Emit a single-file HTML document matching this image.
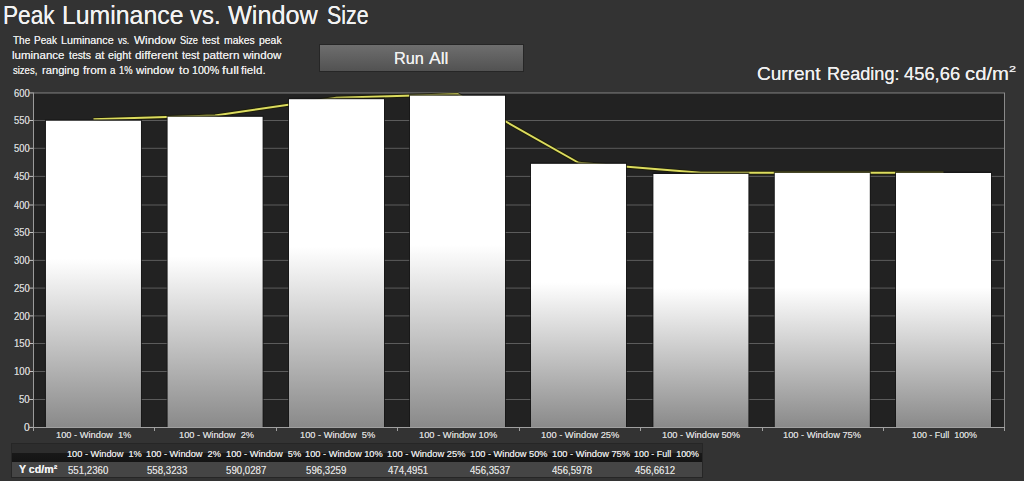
<!DOCTYPE html>
<html><head><meta charset="utf-8"><style>
html,body{margin:0;padding:0;}
body{width:1024px;height:481px;overflow:hidden;background:#333333;position:relative;font-family:"Liberation Sans",sans-serif;}
.t{position:absolute;white-space:pre;transform-origin:0 0;text-shadow:0 0 0.6px currentColor;}
</style></head><body>
<svg style="position:absolute;left:0;top:0" width="1024" height="481" viewBox="0 0 1024 481" shape-rendering="auto"><defs><linearGradient id="bg" x1="0" y1="0" x2="0" y2="1"><stop offset="0" stop-color="#ffffff"/><stop offset="0.45" stop-color="#ffffff"/><stop offset="1" stop-color="#8a8a8a"/></linearGradient></defs><rect x="33" y="92" width="972" height="335" fill="#222222"/><line x1="33" x2="1004" y1="399.5" y2="399.5" stroke="#5c5c5c" stroke-width="1"/><line x1="33" x2="1004" y1="371.5" y2="371.5" stroke="#5c5c5c" stroke-width="1"/><line x1="33" x2="1004" y1="343.5" y2="343.5" stroke="#5c5c5c" stroke-width="1"/><line x1="33" x2="1004" y1="315.9" y2="315.9" stroke="#5c5c5c" stroke-width="1"/><line x1="33" x2="1004" y1="288.1" y2="288.1" stroke="#5c5c5c" stroke-width="1"/><line x1="33" x2="1004" y1="260.4" y2="260.4" stroke="#5c5c5c" stroke-width="1"/><line x1="33" x2="1004" y1="232.5" y2="232.5" stroke="#5c5c5c" stroke-width="1"/><line x1="33" x2="1004" y1="205.0" y2="205.0" stroke="#5c5c5c" stroke-width="1"/><line x1="33" x2="1004" y1="176.4" y2="176.4" stroke="#5c5c5c" stroke-width="1"/><line x1="33" x2="1004" y1="148.3" y2="148.3" stroke="#5c5c5c" stroke-width="1"/><line x1="33" x2="1004" y1="120.5" y2="120.5" stroke="#5c5c5c" stroke-width="1"/><line x1="33" x2="1005" y1="92.95" y2="92.95" stroke="#8a8a8a" stroke-width="1"/><line x1="1004.5" x2="1004.5" y1="92.95" y2="427" stroke="#8a8a8a" stroke-width="1"/><polyline points="93.46,119.35 215.10,115.40 336.50,97.71 457.50,94.20 578.50,162.75 700.90,172.87 822.30,172.73 943.50,172.70" fill="none" stroke="#1c1c00" stroke-opacity="0.7" stroke-width="4" stroke-linejoin="round"/><polyline points="93.46,119.35 215.10,115.40 336.50,97.71 457.50,94.20 578.50,162.75 700.90,172.87 822.30,172.73 943.50,172.70" fill="none" stroke="#dcdc5e" stroke-width="2" stroke-linejoin="round"/><rect x="44.96" y="119.30" width="97.0" height="307.70" fill="#161616" fill-opacity="0.75"/><rect x="45.96" y="120.80" width="95.0" height="306.20" fill="url(#bg)"/><rect x="166.60" y="115.35" width="97.0" height="311.65" fill="#161616" fill-opacity="0.75"/><rect x="167.60" y="116.85" width="95.0" height="310.15" fill="url(#bg)"/><rect x="288.00" y="97.70" width="97.0" height="329.30" fill="#161616" fill-opacity="0.75"/><rect x="289.00" y="99.20" width="95.0" height="327.80" fill="url(#bg)"/><rect x="409.00" y="94.25" width="97.0" height="332.75" fill="#161616" fill-opacity="0.75"/><rect x="410.00" y="95.75" width="95.0" height="331.25" fill="url(#bg)"/><rect x="530.00" y="162.35" width="97.0" height="264.65" fill="#161616" fill-opacity="0.75"/><rect x="531.00" y="163.85" width="95.0" height="263.15" fill="url(#bg)"/><rect x="652.40" y="172.50" width="97.0" height="254.50" fill="#161616" fill-opacity="0.75"/><rect x="653.40" y="174.00" width="95.0" height="253.00" fill="url(#bg)"/><rect x="773.80" y="171.50" width="97.0" height="255.50" fill="#161616" fill-opacity="0.75"/><rect x="774.80" y="173.00" width="95.0" height="254.00" fill="url(#bg)"/><rect x="895.00" y="171.50" width="97.0" height="255.50" fill="#161616" fill-opacity="0.75"/><rect x="896.00" y="173.00" width="95.0" height="254.00" fill="url(#bg)"/><line x1="33.5" x2="33.5" y1="92.45" y2="431" stroke="#9a9a9a" stroke-width="1"/><line x1="33" x2="1005" y1="427.5" y2="427.5" stroke="#a0a0a0" stroke-width="1"/><line x1="29" x2="33" y1="427.4" y2="427.4" stroke="#c0c0c0" stroke-width="1"/><line x1="29" x2="33" y1="399.5" y2="399.5" stroke="#c0c0c0" stroke-width="1"/><line x1="29" x2="33" y1="371.5" y2="371.5" stroke="#c0c0c0" stroke-width="1"/><line x1="29" x2="33" y1="343.5" y2="343.5" stroke="#c0c0c0" stroke-width="1"/><line x1="29" x2="33" y1="315.9" y2="315.9" stroke="#c0c0c0" stroke-width="1"/><line x1="29" x2="33" y1="288.1" y2="288.1" stroke="#c0c0c0" stroke-width="1"/><line x1="29" x2="33" y1="260.4" y2="260.4" stroke="#c0c0c0" stroke-width="1"/><line x1="29" x2="33" y1="232.5" y2="232.5" stroke="#c0c0c0" stroke-width="1"/><line x1="29" x2="33" y1="205.0" y2="205.0" stroke="#c0c0c0" stroke-width="1"/><line x1="29" x2="33" y1="176.4" y2="176.4" stroke="#c0c0c0" stroke-width="1"/><line x1="29" x2="33" y1="148.3" y2="148.3" stroke="#c0c0c0" stroke-width="1"/><line x1="29" x2="33" y1="120.5" y2="120.5" stroke="#c0c0c0" stroke-width="1"/><line x1="29" x2="33" y1="92.95" y2="92.95" stroke="#c0c0c0" stroke-width="1"/><line x1="33.5" x2="33.5" y1="427" y2="431" stroke="#a0a0a0" stroke-width="1"/><line x1="154.5" x2="154.5" y1="427" y2="431" stroke="#a0a0a0" stroke-width="1"/><line x1="276.5" x2="276.5" y1="427" y2="431" stroke="#a0a0a0" stroke-width="1"/><line x1="397.5" x2="397.5" y1="427" y2="431" stroke="#a0a0a0" stroke-width="1"/><line x1="519.5" x2="519.5" y1="427" y2="431" stroke="#a0a0a0" stroke-width="1"/><line x1="640.5" x2="640.5" y1="427" y2="431" stroke="#a0a0a0" stroke-width="1"/><line x1="762.5" x2="762.5" y1="427" y2="431" stroke="#a0a0a0" stroke-width="1"/><line x1="883.5" x2="883.5" y1="427" y2="431" stroke="#a0a0a0" stroke-width="1"/><line x1="1004.5" x2="1004.5" y1="427" y2="431" stroke="#a0a0a0" stroke-width="1"/></svg><div style="position:absolute;left:319px;top:44px;width:203px;height:26px;border:1px solid #262626;background:linear-gradient(#6e6e6e,#525252)"></div><div style="position:absolute;left:11px;top:443px;width:690px;height:33px;border:1px solid #262626;background:#454545"></div><div style="position:absolute;left:12px;top:444px;width:690px;height:18px;background:linear-gradient(#2d2d2d 0,#2d2d2d 48%,#181818 52%,#141414 100%)"></div>
<div class="t" style="left:2.69px;top:3.00px;font-size:25px;line-height:25px;color:#f2f2f2;transform:scaleX(0.9059);">Peak</div><div class="t" style="left:62.21px;top:3.00px;font-size:25px;line-height:25px;color:#f2f2f2;transform:scaleX(0.9929);">Luminance</div><div class="t" style="left:190.37px;top:3.00px;font-size:25px;line-height:25px;color:#f2f2f2;transform:scaleX(0.9566);">vs.</div><div class="t" style="left:228.04px;top:3.00px;font-size:25px;line-height:25px;color:#f2f2f2;transform:scaleX(1.0104);">Window</div><div class="t" style="left:326.78px;top:3.00px;font-size:25px;line-height:25px;color:#f2f2f2;transform:scaleX(0.8535);">Size</div><div class="t" style="left:13.43px;top:35.00px;font-size:11px;line-height:11px;color:#e8e8e8;transform:scaleX(0.9104);">The</div><div class="t" style="left:34.03px;top:35.00px;font-size:11px;line-height:11px;color:#e8e8e8;transform:scaleX(0.9135);">Peak</div><div class="t" style="left:60.67px;top:35.00px;font-size:11px;line-height:11px;color:#e8e8e8;transform:scaleX(0.9802);">Luminance</div><div class="t" style="left:118.22px;top:35.00px;font-size:11px;line-height:11px;color:#e8e8e8;transform:scaleX(0.8064);">vs.</div><div class="t" style="left:133.90px;top:35.00px;font-size:11px;line-height:11px;color:#e8e8e8;transform:scaleX(1.0638);">Window</div><div class="t" style="left:179.73px;top:35.00px;font-size:11px;line-height:11px;color:#e8e8e8;transform:scaleX(0.8424);">Size</div><div class="t" style="left:201.79px;top:35.00px;font-size:11px;line-height:11px;color:#e8e8e8;transform:scaleX(0.9893);">test</div><div class="t" style="left:223.86px;top:35.00px;font-size:11px;line-height:11px;color:#e8e8e8;transform:scaleX(0.9463);">makes</div><div class="t" style="left:258.78px;top:35.00px;font-size:11px;line-height:11px;color:#e8e8e8;transform:scaleX(0.9496);">peak</div><div class="t" style="left:12.47px;top:50.00px;font-size:11px;line-height:11px;color:#e8e8e8;transform:scaleX(1.0468);">luminance</div><div class="t" style="left:68.89px;top:50.00px;font-size:11px;line-height:11px;color:#e8e8e8;transform:scaleX(0.9440);">tests</div><div class="t" style="left:94.56px;top:50.00px;font-size:11px;line-height:11px;color:#e8e8e8;transform:scaleX(1.0417);">at</div><div class="t" style="left:107.59px;top:50.00px;font-size:11px;line-height:11px;color:#e8e8e8;transform:scaleX(0.9738);">eight</div><div class="t" style="left:134.85px;top:50.00px;font-size:11px;line-height:11px;color:#e8e8e8;transform:scaleX(1.0815);">different</div><div class="t" style="left:181.99px;top:50.00px;font-size:11px;line-height:11px;color:#e8e8e8;transform:scaleX(0.9893);">test</div><div class="t" style="left:203.29px;top:50.00px;font-size:11px;line-height:11px;color:#e8e8e8;transform:scaleX(1.0662);">pattern</div><div class="t" style="left:243.07px;top:50.00px;font-size:11px;line-height:11px;color:#e8e8e8;transform:scaleX(1.0455);">window</div><div class="t" style="left:12.99px;top:65.00px;font-size:11px;line-height:11px;color:#e8e8e8;transform:scaleX(0.8647);">sizes,</div><div class="t" style="left:41.61px;top:65.00px;font-size:11px;line-height:11px;color:#e8e8e8;transform:scaleX(1.0152);">ranging</div><div class="t" style="left:82.58px;top:65.00px;font-size:11px;line-height:11px;color:#e8e8e8;transform:scaleX(1.0749);">from</div><div class="t" style="left:109.64px;top:65.00px;font-size:11px;line-height:11px;color:#e8e8e8;transform:scaleX(0.8837);">a</div><div class="t" style="left:118.94px;top:65.00px;font-size:11px;line-height:11px;color:#e8e8e8;transform:scaleX(0.8517);">1%</div><div class="t" style="left:136.07px;top:65.00px;font-size:11px;line-height:11px;color:#e8e8e8;transform:scaleX(1.0373);">window</div><div class="t" style="left:178.57px;top:65.00px;font-size:11px;line-height:11px;color:#e8e8e8;transform:scaleX(1.1099);">to</div><div class="t" style="left:191.64px;top:65.00px;font-size:11px;line-height:11px;color:#e8e8e8;transform:scaleX(0.9699);">100%</div><div class="t" style="left:222.26px;top:65.00px;font-size:11px;line-height:11px;color:#e8e8e8;transform:scaleX(1.2148);">full</div><div class="t" style="left:241.49px;top:65.00px;font-size:11px;line-height:11px;color:#e8e8e8;transform:scaleX(1.0593);">field.</div><div class="t" style="left:394.21px;top:50.00px;font-size:17px;line-height:17px;color:#f0f0f0;transform:scaleX(0.9586);">Run</div><div class="t" style="left:428.92px;top:50.00px;font-size:17px;line-height:17px;color:#f0f0f0;transform:scaleX(1.0318);">All</div><div class="t" style="left:757.48px;top:65.00px;font-size:18.5px;line-height:18.5px;color:#f0f0f0;transform:scaleX(1.0292);">Current</div><div class="t" style="left:826.66px;top:65.00px;font-size:18.5px;line-height:18.5px;color:#f0f0f0;transform:scaleX(0.9795);">Reading:</div><div class="t" style="left:903.73px;top:65.00px;font-size:18.5px;line-height:18.5px;color:#f0f0f0;transform:scaleX(0.9918);">456,66</div><div class="t" style="left:965.49px;top:65.00px;font-size:18.5px;line-height:18.5px;color:#f0f0f0;transform:scaleX(1.0974);">cd/m</div><div class="t" style="left:1008.76px;top:64.00px;font-size:9.8px;line-height:9.8px;color:#f0f0f0;transform:scaleX(1.2983);">2</div><div class="t" style="left:24.03px;top:423.00px;font-size:10.2px;line-height:10.2px;color:#d0d0d0;">0</div><div class="t" style="left:19.02px;top:395.00px;font-size:10.2px;line-height:10.2px;color:#d0d0d0;transform:scaleX(0.9396);">50</div><div class="t" style="left:13.67px;top:367.00px;font-size:10.2px;line-height:10.2px;color:#d0d0d0;transform:scaleX(0.9416);">100</div><div class="t" style="left:13.67px;top:339.00px;font-size:10.2px;line-height:10.2px;color:#d0d0d0;transform:scaleX(0.9416);">150</div><div class="t" style="left:13.92px;top:312.00px;font-size:10.2px;line-height:10.2px;color:#d0d0d0;transform:scaleX(0.9261);">200</div><div class="t" style="left:13.92px;top:284.00px;font-size:10.2px;line-height:10.2px;color:#d0d0d0;transform:scaleX(0.9261);">250</div><div class="t" style="left:14.04px;top:256.00px;font-size:10.2px;line-height:10.2px;color:#d0d0d0;transform:scaleX(0.9190);">300</div><div class="t" style="left:14.04px;top:228.00px;font-size:10.2px;line-height:10.2px;color:#d0d0d0;transform:scaleX(0.9190);">350</div><div class="t" style="left:14.19px;top:201.00px;font-size:10.2px;line-height:10.2px;color:#d0d0d0;transform:scaleX(0.9103);">400</div><div class="t" style="left:14.19px;top:172.00px;font-size:10.2px;line-height:10.2px;color:#d0d0d0;transform:scaleX(0.9103);">450</div><div class="t" style="left:14.02px;top:144.00px;font-size:10.2px;line-height:10.2px;color:#d0d0d0;transform:scaleX(0.9201);">500</div><div class="t" style="left:14.02px;top:116.00px;font-size:10.2px;line-height:10.2px;color:#d0d0d0;transform:scaleX(0.9201);">550</div><div class="t" style="left:13.92px;top:89.00px;font-size:10.2px;line-height:10.2px;color:#d0d0d0;transform:scaleX(0.9264);">600</div><div class="t" style="left:56.14px;top:430.00px;font-size:9.8px;line-height:9.8px;color:#d4d4d4;transform:scaleX(0.9477);">100 - Window  1%</div><div class="t" style="left:178.60px;top:430.00px;font-size:9.8px;line-height:9.8px;color:#d4d4d4;transform:scaleX(0.9438);">100 - Window  2%</div><div class="t" style="left:299.59px;top:430.00px;font-size:9.8px;line-height:9.8px;color:#d4d4d4;transform:scaleX(0.9464);">100 - Window  5%</div><div class="t" style="left:419.19px;top:430.00px;font-size:9.8px;line-height:9.8px;color:#d4d4d4;transform:scaleX(0.9515);">100 - Window 10%</div><div class="t" style="left:540.54px;top:430.00px;font-size:9.8px;line-height:9.8px;color:#d4d4d4;transform:scaleX(0.9527);">100 - Window 25%</div><div class="t" style="left:662.09px;top:430.00px;font-size:9.8px;line-height:9.8px;color:#d4d4d4;transform:scaleX(0.9490);">100 - Window 50%</div><div class="t" style="left:783.49px;top:430.00px;font-size:9.8px;line-height:9.8px;color:#d4d4d4;transform:scaleX(0.9490);">100 - Window 75%</div><div class="t" style="left:912.02px;top:430.00px;font-size:9.8px;line-height:9.8px;color:#d4d4d4;transform:scaleX(0.9111);">100 - Full  100%</div><div class="t" style="left:67.20px;top:449.00px;font-size:9.8px;line-height:9.8px;color:#e0e0e0;transform:scaleX(0.9400);">100 - Window  1%</div><div class="t" style="left:146.30px;top:449.00px;font-size:9.8px;line-height:9.8px;color:#e0e0e0;transform:scaleX(0.9426);">100 - Window  2%</div><div class="t" style="left:225.69px;top:449.00px;font-size:9.8px;line-height:9.8px;color:#e0e0e0;transform:scaleX(0.9464);">100 - Window  5%</div><div class="t" style="left:305.19px;top:449.00px;font-size:9.8px;line-height:9.8px;color:#e0e0e0;transform:scaleX(0.9453);">100 - Window 10%</div><div class="t" style="left:387.19px;top:449.00px;font-size:9.8px;line-height:9.8px;color:#e0e0e0;transform:scaleX(0.9539);">100 - Window 25%</div><div class="t" style="left:469.60px;top:449.00px;font-size:9.8px;line-height:9.8px;color:#e0e0e0;transform:scaleX(0.9428);">100 - Window 50%</div><div class="t" style="left:551.99px;top:449.00px;font-size:9.8px;line-height:9.8px;color:#e0e0e0;transform:scaleX(0.9490);">100 - Window 75%</div><div class="t" style="left:634.32px;top:449.00px;font-size:9.8px;line-height:9.8px;color:#e0e0e0;transform:scaleX(0.9111);">100 - Full  100%</div><div class="t" style="left:19.02px;top:465.00px;font-size:10.45px;line-height:10.45px;color:#f0f0f0;transform:scaleX(1.0184);font-weight:bold;">Y cd/m²</div><div class="t" style="left:67.51px;top:465.00px;font-size:11.2px;line-height:11.2px;color:#d8d8d8;transform:scaleX(0.8627);">551,2360</div><div class="t" style="left:146.61px;top:465.00px;font-size:11.2px;line-height:11.2px;color:#d8d8d8;transform:scaleX(0.8637);">558,3233</div><div class="t" style="left:226.01px;top:465.00px;font-size:11.2px;line-height:11.2px;color:#d8d8d8;transform:scaleX(0.8651);">590,0287</div><div class="t" style="left:305.51px;top:465.00px;font-size:11.2px;line-height:11.2px;color:#d8d8d8;transform:scaleX(0.8645);">596,3259</div><div class="t" style="left:387.68px;top:465.00px;font-size:11.2px;line-height:11.2px;color:#d8d8d8;transform:scaleX(0.8612);">474,4951</div><div class="t" style="left:470.08px;top:465.00px;font-size:11.2px;line-height:11.2px;color:#d8d8d8;transform:scaleX(0.8615);">456,3537</div><div class="t" style="left:552.48px;top:465.00px;font-size:11.2px;line-height:11.2px;color:#d8d8d8;transform:scaleX(0.8600);">456,5978</div><div class="t" style="left:634.78px;top:465.00px;font-size:11.2px;line-height:11.2px;color:#d8d8d8;transform:scaleX(0.8615);">456,6612</div>
</body></html>
